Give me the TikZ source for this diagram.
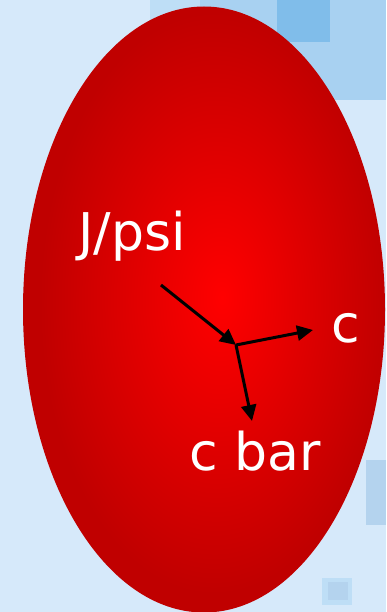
\documentclass[tikz,border=0pt]{standalone}
\usepackage{fontspec}
\setmainfont{DejaVu Sans}
\usetikzlibrary{arrows.meta}
\definecolor{bg}{RGB}{214,233,250}
\definecolor{band}{RGB}{168,209,241}
\definecolor{bandlite}{RGB}{190,222,246}
\definecolor{bandsq}{RGB}{128,189,234}
\definecolor{sqlite}{RGB}{180,211,238}
\definecolor{rcenter}{RGB}{255,0,0}
\definecolor{redge}{RGB}{192,0,0}
\pgfdeclareradialshading{redball}{\pgfpoint{2.5bp}{1bp}}{color(0bp)=(rcenter); color(24bp)=(redge); color(50bp)=(redge)}
\tikzset{
  lbl/.style={text=white, font=\fontsize{52}{62}\selectfont, inner sep=0pt, anchor=base},
  arr/.style={draw=black, line width=3pt, -{Triangle[length=16pt,width=15pt]}}
}
\begin{document}
\begin{tikzpicture}[x=1pt,y=-1pt]
\useasboundingbox (0,0) rectangle (386,612);
\fill[bg] (0,0) rectangle (386,612);
% decorative background squares
\fill[bandlite] (150,0) rectangle (280,25);
\fill[band] (200,0) rectangle (386,100);
\fill[bandsq] (277,0) rectangle (330,42);
\fill[sqlite] (366,460) rectangle (386,525);
\fill[bandlite] (322,578) rectangle (352,605);
\fill[sqlite] (328,582) rectangle (348,600);
% ellipse
\shade[shading=redball] (204,309.5) ellipse [x radius=181, y radius=303];
% labels
\node[lbl] (jpsi) at (132,250) {J/psi};
\node[lbl] (c) at (346,342) {c};
\node[lbl] (cbar) at (255,470) {c bar};
% connectors
\coordinate (start) at (161,285);
\coordinate (vtx) at (236,345);
\coordinate (ctip) at (313,330);
\coordinate (btip) at (252,421);
\draw[arr] (start) -- (vtx);
\draw[arr] (vtx) -- (ctip);
\draw[arr] (vtx) -- (btip);
\end{tikzpicture}
\end{document}
